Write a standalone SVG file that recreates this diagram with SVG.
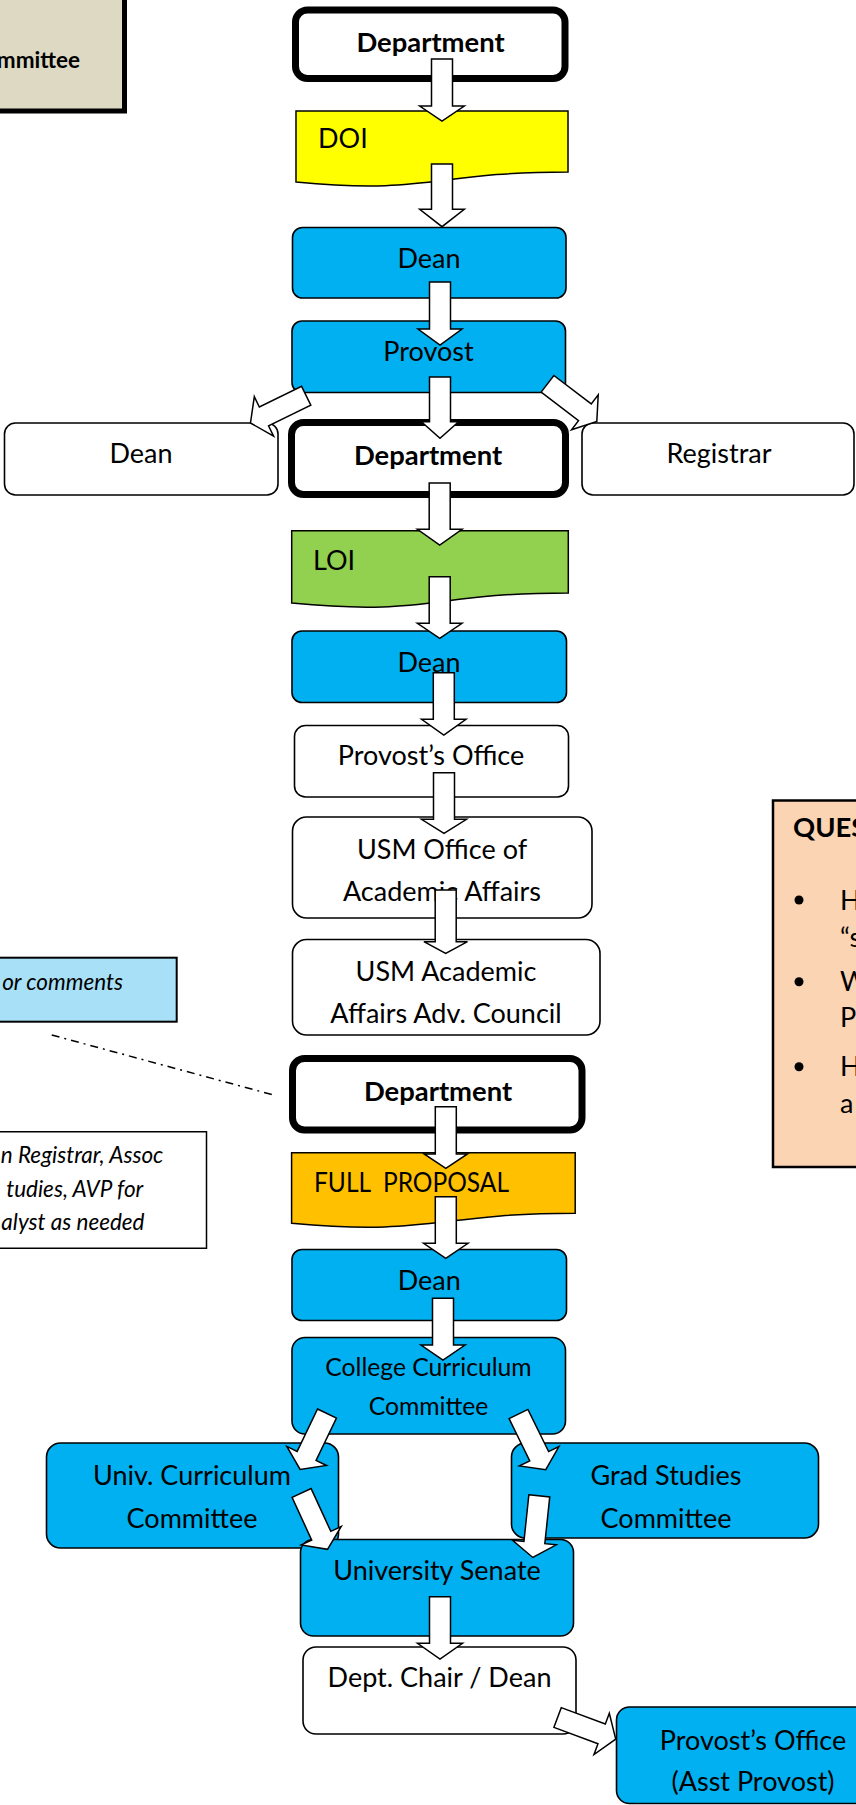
<svg xmlns="http://www.w3.org/2000/svg" xmlns:xlink="http://www.w3.org/1999/xlink" width="856" height="1805" viewBox="0 0 856 1805">
<style>
text{font-family:Lato,"Noto Sans","DejaVu Sans",sans-serif;font-size:27px;fill:#000}
.c{text-anchor:middle}
.e{text-anchor:end}
.b{font-weight:bold;font-size:27.4px}
.s{font-size:22.5px}
.i{font-style:italic;font-size:22.5px}
.ccc{font-size:24.7px}
.pre{white-space:pre}
.blue{fill:#00B0F0;stroke:#000;stroke-width:1.6}
.white{fill:#fff;stroke:#000;stroke-width:1.6}
.thick{fill:#fff;stroke:#000;stroke-width:7}
.doc{stroke:#000;stroke-width:1.5}
.arr{fill:#fff;stroke:#000;stroke-width:1.5;stroke-linejoin:miter}
</style>
<defs>
<path id="darr" d="M-10.5 0H10.5V47H22L0 62L-22 47H-10.5Z"/>
</defs>
<rect width="856" height="1805" fill="#fff"/>

<g id="committee">
<rect x="-20" y="-20" width="144.5" height="131" fill="#DDD9C3" stroke="#000" stroke-width="5"/>
<text class="b s e" x="80" y="68">mmittee</text>
</g>

<g id="comments-note">
<rect x="-20" y="957.7" width="196.7" height="64" fill="#A8E0F7" stroke="#000" stroke-width="2"/>
<text class="i e" x="123" y="990">or comments</text>
</g>

<g id="consult-note">
<rect x="-20" y="1131.75" width="226.5" height="116.5" fill="#fff" stroke="#000" stroke-width="1.5"/>
<text class="i e" x="163.3" y="1163">n Registrar, Assoc</text>
<text class="i e" x="143.3" y="1197">tudies, AVP for</text>
<text class="i e" x="144.5" y="1230">alyst as needed</text>
</g>

<g id="questions">
<rect x="773" y="800.5" width="120" height="366.5" fill="#FBD4B4" stroke="#000" stroke-width="2.5"/>
<text class="b" x="793" y="837">QUES</text>
<circle cx="799" cy="900" r="4.5" fill="#000"/>
<circle cx="799" cy="981.7" r="4.5" fill="#000"/>
<circle cx="799" cy="1066.7" r="4.5" fill="#000"/>
<text x="840" y="910">H</text>
<text x="840" y="947">“s</text>
<text x="840" y="991">W</text>
<text x="840" y="1027">P</text>
<text x="840" y="1076">H</text>
<text x="840" y="1113">a</text>
</g>

<g id="department1">
<rect class="thick" x="295.5" y="10" width="269.5" height="68.5" rx="12"/>
<text class="b c" x="430.5" y="52">Department</text>
</g>

<g id="doi">
<path class="doc" fill="#FFFF00" d="M296 111H568V172C432 172 432 195 296 182Z"/>
<text x="318" y="148">DOI</text>
</g>

<g id="dean1">
<rect class="blue" x="292.5" y="227.5" width="273.5" height="70.5" rx="10"/>
<text class="c" x="429" y="268">Dean</text>
</g>

<g id="provost">
<rect class="blue" x="292" y="321" width="273.5" height="71.5" rx="10"/>
<text class="c" x="428.5" y="361">Provost</text>
</g>

<g id="dean-left">
<rect class="white" x="4.5" y="423" width="273.5" height="72" rx="11"/>
<text class="c" x="141" y="463">Dean</text>
</g>

<g id="department2">
<rect class="thick" x="291.5" y="422.5" width="274" height="72" rx="12"/>
<text class="b c" x="428" y="465">Department</text>
</g>

<g id="registrar">
<rect class="white" x="582" y="423" width="272" height="72" rx="11"/>
<text class="c" x="719" y="463">Registrar</text>
</g>

<g id="loi">
<path class="doc" fill="#92D050" d="M291.7 530.7H568.3V592.9C430 592.9 430 616.5 291.7 603.1Z"/>
<text x="313" y="570">LOI</text>
</g>

<g id="dean2">
<rect class="blue" x="292" y="631" width="274.5" height="71.5" rx="10"/>
<text class="c" x="429" y="672">Dean</text>
</g>

<g id="provost-office">
<rect class="white" x="294.5" y="725.5" width="274" height="71.5" rx="11"/>
<text class="c" x="431" y="765">Provost’s Office</text>
</g>

<g id="usm-oaa">
<rect class="white" x="292.5" y="817" width="299.5" height="101" rx="14"/>
<text class="c" x="442" y="859">USM Office of</text>
<text class="c" x="442" y="901">Academic Affairs</text>
</g>

<g id="usm-aaac">
<rect class="white" x="292.5" y="939.5" width="307.5" height="95.5" rx="14"/>
<text class="c" x="446" y="980.5">USM Academic</text>
<text class="c" x="446" y="1022.5">Affairs Adv. Council</text>
</g>

<g id="department3">
<rect class="thick" x="292.5" y="1058.5" width="289.5" height="71.5" rx="12"/>
<text class="b c" x="438" y="1101">Department</text>
</g>

<g id="full-proposal">
<path class="doc" fill="#FFC000" d="M291.6 1152.7H575.2V1213.3C433.4 1213.3 433.4 1236.3 291.6 1223.2Z"/>
<text class="pre" x="314" y="1192" textLength="195" lengthAdjust="spacingAndGlyphs">FULL  PROPOSAL</text>
</g>

<g id="dean3">
<rect class="blue" x="292" y="1249.5" width="274.5" height="71" rx="10"/>
<text class="c" x="429.3" y="1290">Dean</text>
</g>

<g id="college-curriculum">
<rect class="blue" x="292" y="1337.5" width="273.5" height="96.5" rx="13"/>
<text class="c ccc" x="428.5" y="1376">College Curriculum</text>
<text class="c ccc" x="428.5" y="1415">Committee</text>
</g>

<g id="univ-curriculum">
<rect class="blue" x="46.5" y="1443" width="292" height="105" rx="14"/>
<text class="c" x="192" y="1485">Univ. Curriculum</text>
<text class="c" x="192" y="1528">Committee</text>
</g>

<g id="grad-studies">
<rect class="blue" x="511.5" y="1443" width="307" height="95" rx="14"/>
<text class="c" x="666" y="1485">Grad Studies</text>
<text class="c" x="666" y="1528">Committee</text>
</g>

<g id="senate">
<rect class="blue" x="300.5" y="1539.5" width="273" height="96.5" rx="13"/>
<text class="c" x="437" y="1580">University Senate</text>
</g>

<g id="dept-chair">
<rect class="white" x="303" y="1647" width="273" height="87" rx="13"/>
<text class="c" x="439.5" y="1687">Dept. Chair / Dean</text>
</g>

<g id="provost-office-asst">
<rect class="blue" x="616.5" y="1707" width="275" height="96.5" rx="13"/>
<text class="c" x="753" y="1750">Provost’s Office</text>
<text class="c" x="753" y="1791">(Asst Provost)</text>
</g>

<g id="connectors">
<path d="M51.7 1035L273.5 1095" fill="none" stroke="#000" stroke-width="1.5" stroke-dasharray="8 5 2 5"/>
<path class="arr" d="M431.5 59H452.5V106H464.3L442 121L419.7 106H431.5Z"/>
<path class="arr" d="M431.5 164H452.5V209.3H464.3L442 226.7L419.7 209.3H431.5Z"/>
<path class="arr" d="M429.5 282H450.5V329H462L440 345L418 329H429.5Z"/>
<path class="arr" d="M429.5 377H450.5V421.7H458.6L440 438.3L421.4 421.7H429.5Z"/>
<path class="arr" d="M429.2 483H450.2V529.3H462L439.7 545L417.4 529.3H429.2Z"/>
<path class="arr" d="M429.2 576.7H450.2V623.3H462L439.7 638.3L417.4 623.3H429.2Z"/>
<path class="arr" d="M433.3 672.7H454.3V719.3H466L443.8 735L421.6 719.3H433.3Z"/>
<path class="arr" d="M433.5 772.7H454.5V819.3H466.5L444 833.3L421.5 819.3H433.5Z"/>
<path class="arr" d="M435.2 890H456.2V941.7H467.5L445.7 953.3L423.9 941.7H435.2Z"/>
<path class="arr" d="M435.3 1106.7H456.3V1154H467.5L445.8 1168.3L424.1 1154H435.3Z"/>
<path class="arr" d="M435.3 1196.7H456.3V1243.3H468L445.8 1258.3L423.6 1243.3H435.3Z"/>
<path class="arr" d="M432.5 1298.3H453.5V1345H465L443 1360L421 1345H432.5Z"/>
<path class="arr" d="M429.5 1596.7H450.5V1643.3H462.5L440 1659L417.5 1643.3H429.5Z"/>
<use class="arr" xlink:href="#darr" transform="translate(306.2 395.8) rotate(64)"/>
<use class="arr" xlink:href="#darr" transform="translate(547.5 383.8) rotate(-52.7)"/>
<use class="arr" xlink:href="#darr" transform="translate(327 1413.6) rotate(25.7)"/>
<use class="arr" xlink:href="#darr" transform="translate(518.5 1414) rotate(-26.1)"/>
<use class="arr" xlink:href="#darr" transform="translate(301.6 1493) rotate(-24.7)"/>
<use class="arr" xlink:href="#darr" transform="translate(539.3 1495.8) rotate(6)"/>
<use class="arr" xlink:href="#darr" transform="translate(557.6 1717.5) rotate(-69.6)"/>
</g>
</svg>
